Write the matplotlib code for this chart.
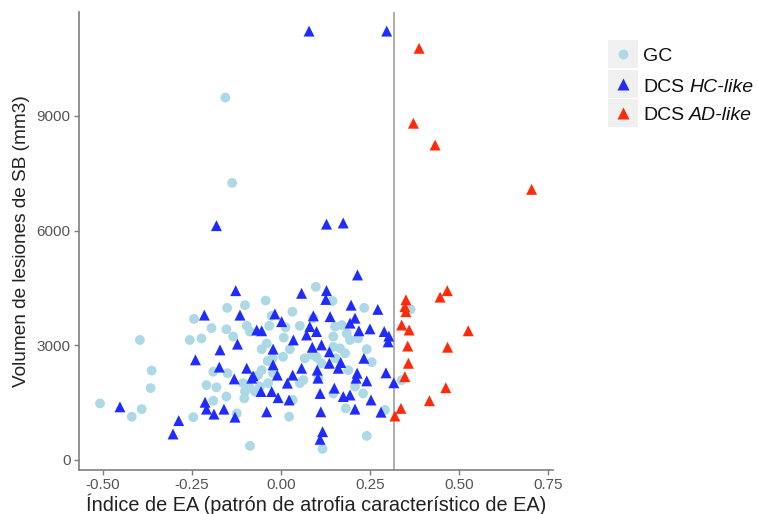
import matplotlib
matplotlib.use("Agg")
import matplotlib.pyplot as plt
from matplotlib.patches import Rectangle
from matplotlib.lines import Line2D

plt.rcParams['font.family'] = ['Liberation Sans', 'DejaVu Sans']

# GC (controles)
gc_x = [-0.156, -0.137, 0.098, -0.101, -0.043, 0.145, 0.234, 0.032, -0.244, -0.151,
        -0.096, -0.195, -0.153, -0.087, -0.033, 0.053, -0.026, 0.091, 0.171, 0.185,
        0.147, 0.217, -0.256, -0.223, -0.396, -0.134, -0.040, 0.008, 0.025, -0.054,
        0.006, -0.023, -0.037, 0.067, 0.088, 0.147, 0.166, 0.180, 0.194, 0.241,
        0.100, 0.114, 0.154, 0.189, -0.363, -0.366, -0.190, -0.150, -0.209, -0.181,
        -0.101, -0.103, -0.089, -0.073, -0.106, -0.059, -0.036, -0.022, -0.064, -0.054,
        0.053, 0.105, 0.147, 0.231, 0.208, -0.508, -0.419, -0.391, -0.246, -0.190,
        -0.153, -0.124, 0.033, 0.023, 0.182, 0.292, 0.241, -0.087, 0.117, 0.364,
        0.339, 0.255, 0.063, 0.152, 0.013]
gc_y = [9480, 7250, 4530, 4050, 4170, 4160, 3980, 3880, 3690, 3980,
        3510, 3450, 3420, 3360, 3510, 3510, 3770, 3710, 3530, 3310,
        3230, 3180, 3140, 3180, 3140, 3230, 3050, 3200, 2900, 2900,
        2700, 2660, 2590, 2660, 2750, 2960, 2920, 2790, 3140, 2900,
        2690, 2530, 2660, 2350, 2340, 1880, 2310, 2270, 1960, 1900,
        1790, 1610, 1920, 1790, 2010, 1920, 2010, 2270, 2220, 2350,
        2010, 2160, 1740, 1740, 1920, 1480, 1130, 1330, 1120, 1550,
        1660, 1220, 1570, 1130, 1350, 1310, 630, 370, 290, 3940,
        2090, 2560, 2090, 3490, 3470]

# DCS HC-like
hc_x = [0.079, 0.297, -0.181, 0.128, 0.175, 0.215, -0.127, 0.058, 0.128, 0.126,
        0.197, 0.272, -0.215, -0.115, -0.017, 0.002, 0.091, 0.138, 0.208, 0.194,
        0.081, 0.100, 0.219, 0.250, 0.290, 0.303, 0.301, -0.068, -0.054, 0.072,
        0.035, -0.122, 0.114, 0.088, -0.022, 0.136, -0.171, 0.233, -0.240, -0.173,
        -0.096, -0.022, 0.058, 0.033, 0.102, 0.136, 0.168, 0.161, 0.214, 0.211,
        -0.078, -0.082, -0.131, -0.010, 0.018, 0.295, 0.317, 0.241, 0.110, 0.150,
        0.175, 0.194, -0.026, -0.056, -0.213, -0.209, -0.188, -0.160, -0.129, -0.040,
        0.023, -0.008, 0.112, 0.208, 0.253, 0.281, -0.452, -0.287, -0.303, 0.117,
        0.110, 0.104]
hc_y = [11220, 11220, 6130, 6170, 6200, 4840, 4430, 4360, 4430, 4200,
        4050, 3940, 3790, 3790, 3820, 3620, 3770, 3750, 3710, 3580,
        3490, 3360, 3380, 3430, 3360, 3240, 3090, 3400, 3380, 3270,
        3140, 3030, 3010, 2950, 2900, 2830, 2880, 2660, 2620, 2430,
        2400, 2490, 2400, 2220, 2350, 2530, 2550, 2400, 2270, 2140,
        2200, 2140, 2120, 2220, 2010, 2280, 2020, 2070, 1740, 1880,
        1660, 1700, 1790, 1790, 1510, 1330, 1200, 1330, 1120, 1260,
        1570, 1630, 1260, 1330, 1570, 1250, 1390, 1030, 680, 740,
        540, 2140]

# DCS AD-like
ad_x = [0.388, 0.372, 0.433, 0.704, 0.467, 0.447, 0.351, 0.348, 0.351, 0.339,
        0.360, 0.526, 0.356, 0.468, 0.358, 0.348, 0.463, 0.417, 0.337, 0.320]
ad_y = [10770, 8810, 8240, 7080, 4430, 4260, 4190, 4010, 3880, 3530,
        3400, 3380, 2980, 2950, 2530, 2180, 1890, 1550, 1350, 1150]

cutoff = 0.317

x_ticks = [-0.50, -0.25, 0.00, 0.25, 0.50, 0.75]
y_ticks = [0, 3000, 6000, 9000]

c_gc = '#add8e6'
c_hc = '#1f2bff'
c_ad = '#ff2a0a'
grey = '#7f7f7f'

W, H = 758, 514
fig = plt.figure(figsize=(W / 100, H / 100), dpi=100)
ax = fig.add_axes([79 / W, 1 - 470 / H, (553 - 79) / W, (470 - 12) / H])

ax.scatter(gc_x, gc_y, s=50, marker='o', color=c_gc, edgecolors='none', zorder=3)
ax.scatter(hc_x, hc_y, s=62, marker='^', color=c_hc, edgecolors='none', zorder=3)
ax.scatter(ad_x, ad_y, s=62, marker='^', color=c_ad, edgecolors='none', zorder=3)
ax.axvline(cutoff, color='#a6a6a6', lw=1.3, zorder=2)

ax.set_xlim(-0.567, 0.764)
ax.set_ylim(-262, 11720)
ax.set_xticks(x_ticks)
ax.set_xticklabels([f"{t:.2f}" for t in x_ticks])
ax.set_yticks(y_ticks)
ax.set_yticklabels([str(t) for t in y_ticks])

for side in ('top', 'right'):
    ax.spines[side].set_visible(False)
for side in ('left', 'bottom'):
    ax.spines[side].set_color(grey)
    ax.spines[side].set_linewidth(1.2)
ax.tick_params(colors=grey, labelcolor='#555555', labelsize=11, length=3.5, width=1.0,
               pad=2.5)

ax.set_xlabel("Índice de EA (patrón de atrofia característico de EA)", fontsize=14.3,
              color='#222222', labelpad=0.5)
ax.set_ylabel("Volumen de lesiones de SB (mm3)", fontsize=13.7, color='#222222', labelpad=5)

# leyenda con cajas grises detrás de cada clave
entries = [("GC", None, 'o', c_gc, 7),
           ("DCS", "HC-like", '^', c_hc, 8),
           ("DCS", "AD-like", '^', c_ad, 8)]
key_x0, key_w, key_h = 608, 30, 28
tops = [40, 70, 99]
for (lab, it, mk, col, ms), top in zip(entries, tops):
    fig.add_artist(Rectangle((key_x0 / W, 1 - (top + key_h) / H), key_w / W, key_h / H,
                             transform=fig.transFigure, facecolor='#f0f0f0',
                             edgecolor='none'))
    cy = 1 - (top + key_h / 2) / H
    fig.add_artist(Line2D([(key_x0 + key_w / 2) / W], [cy], marker=mk, markersize=ms,
                          color=col, markeredgecolor='none', linestyle='none',
                          transform=fig.transFigure))
    t = fig.text(643 / W, cy - 3 / H, lab, fontsize=14, va='center', color='#111111')
    if it:
        ax.annotate(it, xy=(1, 0), xycoords=t, xytext=(3.8, 0), textcoords='offset points',
                    fontsize=14, style='italic', va='bottom', color='#111111',
                    annotation_clip=False)

fig.savefig("out.png", dpi=100)
